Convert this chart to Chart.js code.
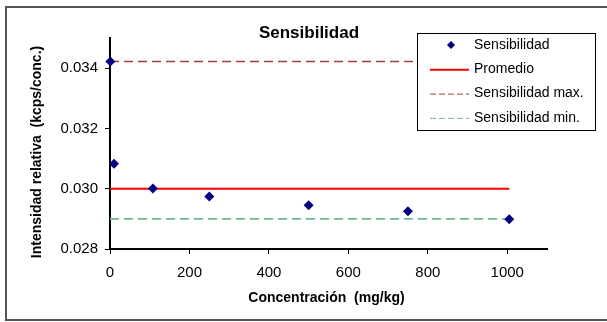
<!DOCTYPE html>
<html>
<head>
<meta charset="utf-8">
<script src="https://cdn.jsdelivr.net/npm/chart.js@4/dist/chart.umd.min.js"></script>
<style>
  html, body { margin: 0; padding: 0; background: #fff; }
  #wrap { width: 607px; height: 322px; position: relative; }
</style>
</head>
<body>
<div id="wrap"><canvas id="myChart" width="607" height="322"></canvas></div>
<script>
// valores
const concentracion = [1, 10, 108, 250, 500, 750, 1005];
const sensibilidad = [0.03422, 0.03083, 0.03001, 0.02974, 0.02945, 0.02925, 0.02899];

const lineaX = [0, 1005];
const promedio = [0.0300, 0.0300];
const sensMax = [0.03422, 0.03422];
const sensMin = [0.0290, 0.0290];

const xTicks = [0, 200, 400, 600, 800, 1000];
const yTicks = [0.028, 0.030, 0.032, 0.034];

const toPoints = (xs, ys) => xs.map((x, i) => ({ x: x, y: ys[i] }));

const legendItems = [
    { label: 'Sensibilidad', type: 'point', color: '#000080' },
    { label: 'Promedio', type: 'line', color: '#FF0000', width: 2, dash: [] },
    { label: 'Sensibilidad max.', type: 'line', color: '#A04040', width: 1, dash: [6, 3] },
    { label: 'Sensibilidad min.', type: 'line', color: '#70B890', width: 1, dash: [6, 3] }
];

// titulo, titulos de ejes, marco y leyenda
const extras = {
    id: 'extras',
    beforeDraw(chart) {
        const ctx = chart.ctx;
        ctx.save();
        ctx.fillStyle = '#fff';
        ctx.fillRect(0, 0, chart.width, chart.height);
        ctx.strokeStyle = '#555';
        ctx.lineWidth = 2;
        ctx.strokeRect(6, 7, 640, 313);
        ctx.restore();
    },
    afterDraw(chart) {
        const ctx = chart.ctx;
        const area = chart.chartArea;
        ctx.save();
        ctx.fillStyle = '#000';
        ctx.textAlign = 'center';
        ctx.textBaseline = 'alphabetic';
        ctx.font = 'bold 17px "Liberation Sans", Arial, sans-serif';
        ctx.fillText('Sensibilidad', 309, 38);

        ctx.font = 'bold 14px "Liberation Sans", Arial, sans-serif';
        ctx.fillText('Concentración  (mg/kg)', (area.left + area.right) / 2 - 2, 302);

        ctx.translate(41, 152);
        ctx.rotate(-Math.PI / 2);
        ctx.fillText('Intensidad relativa  (kcps/conc.)', 0, 0);
        ctx.restore();

        // leyenda
        const bx = 417.5, by = 33.5, bw = 178, bh = 97;
        ctx.save();
        ctx.fillStyle = '#fff';
        ctx.fillRect(bx, by, bw, bh);
        ctx.strokeStyle = '#000';
        ctx.lineWidth = 1;
        ctx.strokeRect(bx, by, bw, bh);
        ctx.font = '14px "Liberation Sans", Arial, sans-serif';
        ctx.textAlign = 'left';
        ctx.textBaseline = 'middle';
        legendItems.forEach((it, i) => {
            const y = 45 + i * 24.3;
            if (it.type === 'point') {
                ctx.fillStyle = it.color;
                ctx.beginPath();
                ctx.moveTo(451, y - 4);
                ctx.lineTo(455, y);
                ctx.lineTo(451, y + 4);
                ctx.lineTo(447, y);
                ctx.closePath();
                ctx.fill();
            } else {
                ctx.strokeStyle = it.color;
                ctx.lineWidth = it.width;
                ctx.setLineDash(it.dash);
                ctx.beginPath();
                ctx.moveTo(430, y + 0.5);
                ctx.lineTo(469, y + 0.5);
                ctx.stroke();
                ctx.setLineDash([]);
            }
            ctx.fillStyle = '#000';
            ctx.fillText(it.label, 474, y);
        });
        ctx.restore();
    }
};

let sensChart = new Chart(document.getElementById('myChart'), {
    type: 'scatter',
    data: {
        datasets: [{
                label: 'Sensibilidad',
                data: toPoints(concentracion, sensibilidad),
                pointStyle: 'rectRot',
                pointRadius: 5,
                pointBackgroundColor: '#000080',
                pointBorderColor: '#000080',
                pointBorderWidth: 0,
                showLine: false,
                clip: false,
                order: 0
            },
            {
                label: 'Promedio',
                data: toPoints(lineaX, promedio),
                showLine: true,
                borderColor: '#FF0000',
                borderWidth: 2,
                pointRadius: 0,
                clip: false,
                order: 1
            },
            {
                label: 'Sensibilidad max.',
                data: toPoints(lineaX, sensMax),
                showLine: true,
                borderColor: '#A04040',
                borderWidth: 1.6,
                borderDash: [9, 5],
                pointRadius: 0,
                clip: false,
                order: 2
            },
            {
                label: 'Sensibilidad min.',
                data: toPoints(lineaX, sensMin),
                showLine: true,
                borderColor: '#70B890',
                borderWidth: 1.6,
                borderDash: [9, 5],
                pointRadius: 0,
                clip: false,
                order: 3
            }
        ]
    },
    options: {
        responsive: false,
        animation: false,
        layout: {
            padding: { left: 0, right: 60, top: 38, bottom: 0 }
        },
        plugins: {
            legend: { display: false },
            title: { display: false },
            tooltip: { enabled: false }
        },
        scales: {
            x: {
                type: 'linear',
                min: 0,
                max: 1100,
                afterFit: (scale) => { scale.height = 73; },
                afterBuildTicks: (scale) => { scale.ticks = xTicks.map(v => ({ value: v })); },
                border: { display: true, color: '#000', width: 2 },
                grid: { display: true, drawOnChartArea: false, drawTicks: true, tickLength: 5, color: '#000', lineWidth: 1 },
                ticks: {
                    color: '#000',
                    padding: 10,
                    maxRotation: 0,
                    font: { family: '"Liberation Sans", Arial, sans-serif', size: 15 },
                    callback: (v) => String(v)
                }
            },
            y: {
                type: 'linear',
                min: 0.028,
                max: 0.035,
                afterFit: (scale) => { scale.width = 110; },
                afterBuildTicks: (scale) => { scale.ticks = yTicks.map(v => ({ value: v })); },
                border: { display: true, color: '#000', width: 2 },
                grid: { display: true, drawOnChartArea: false, drawTicks: true, tickLength: 5, color: '#000', lineWidth: 1 },
                ticks: {
                    color: '#000',
                    padding: 7,
                    font: { family: '"Liberation Sans", Arial, sans-serif', size: 15 },
                    callback: (v) => v.toFixed(3)
                }
            }
        }
    },
    plugins: [extras]
});
</script>
</body>
</html>
